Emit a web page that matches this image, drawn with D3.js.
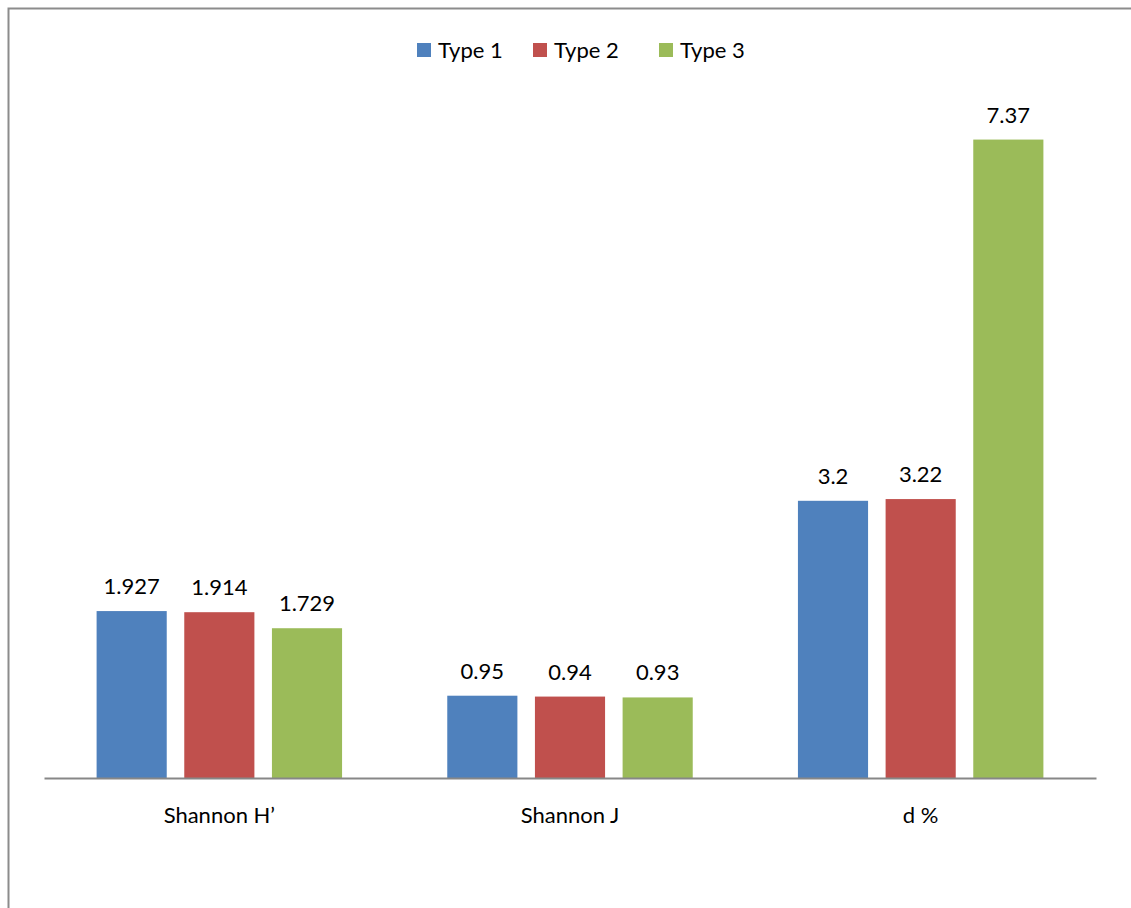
<!DOCTYPE html>
<html>
<head>
<meta charset="utf-8">
<script src="https://cdn.jsdelivr.net/npm/d3@7"></script>
<style>
  html, body { margin: 0; padding: 0; background: #fff; }
  svg { display: block; }
  text { font-family: Lato, "Open Sans", sans-serif; fill: #000; }
</style>
</head>
<body>
<svg id="chart" width="1131" height="908"></svg>
<script>
// Diversity indices per habitat type
const categories = ["Shannon H\u2019", "Shannon J", "d %"];
const seriesNames = ["Type 1", "Type 2", "Type 3"];
const type1 = [1.927, 0.95, 3.2];
const type2 = [1.914, 0.94, 3.22];
const type3 = [1.729, 0.93, 7.37];
const seriesColors = ["#4F81BD", "#C0504D", "#9BBB59"];

const series = [type1, type2, type3];

const svg = d3.select("#chart");
const W = 1131, H = 908;
const FONT = 22;

// outer frame
svg.append("rect")
  .attr("x", 8.5).attr("y", 8.5)
  .attr("width", W + 20).attr("height", H + 20)
  .attr("fill", "#fff")
  .attr("stroke", "#8c8c8c")
  .attr("stroke-width", 2);

const plot = { left: 44, right: 1096, top: 85, bottom: 778 };

const x0 = d3.scaleBand()
  .domain(categories)
  .range([plot.left, plot.right])
  .paddingInner(0).paddingOuter(0);

const x1 = d3.scaleBand()
  .domain(seriesNames)
  .range([0, x0.bandwidth()])
  .paddingInner(0.2)
  .paddingOuter(0.6);

const y = d3.scaleLinear()
  .domain([0, 8])
  .range([plot.bottom, plot.top]);

const cells = (c, ci) => seriesNames.map((s, si) => ({ s, si, v: series[si][ci] }));

// bars
const groups = svg.append("g").selectAll("g")
  .data(categories)
  .join("g")
  .attr("transform", d => `translate(${x0(d)},0)`);

groups.selectAll("rect")
  .data(cells)
  .join("rect")
  .attr("x", d => x1(d.s))
  .attr("width", x1.bandwidth())
  .attr("y", d => y(d.v))
  .attr("height", d => y(0) - y(d.v))
  .attr("fill", d => seriesColors[d.si]);

// value labels
groups.selectAll("text.val")
  .data(cells)
  .join("text")
  .attr("class", "val")
  .attr("x", d => x1(d.s) + x1.bandwidth() / 2)
  .attr("y", d => y(d.v) - 17)
  .attr("text-anchor", "middle")
  .attr("font-size", FONT)
  .text(d => String(d.v));

// category axis
const xAxis = svg.append("g")
  .attr("transform", `translate(0,${plot.bottom})`)
  .call(d3.axisBottom(x0).tickSize(0).tickPadding(29));
xAxis.select(".domain").attr("stroke", "#878787").attr("stroke-width", 2);
xAxis.selectAll("text")
  .attr("font-size", FONT)
  .style("font-family", "Lato, 'Open Sans', sans-serif")
  .attr("fill", "#000");

// legend
const legendItems = [
  { name: seriesNames[0], x: 417 },
  { name: seriesNames[1], x: 533 },
  { name: seriesNames[2], x: 659 }
];
const legend = svg.append("g").selectAll("g")
  .data(legendItems)
  .join("g")
  .attr("transform", d => `translate(${d.x},43)`);
legend.append("rect")
  .attr("width", 14).attr("height", 14)
  .attr("fill", (d, i) => seriesColors[i]);
legend.append("text")
  .attr("x", 21).attr("y", 15)
  .attr("font-size", FONT)
  .text(d => d.name);
</script>
</body>
</html>
